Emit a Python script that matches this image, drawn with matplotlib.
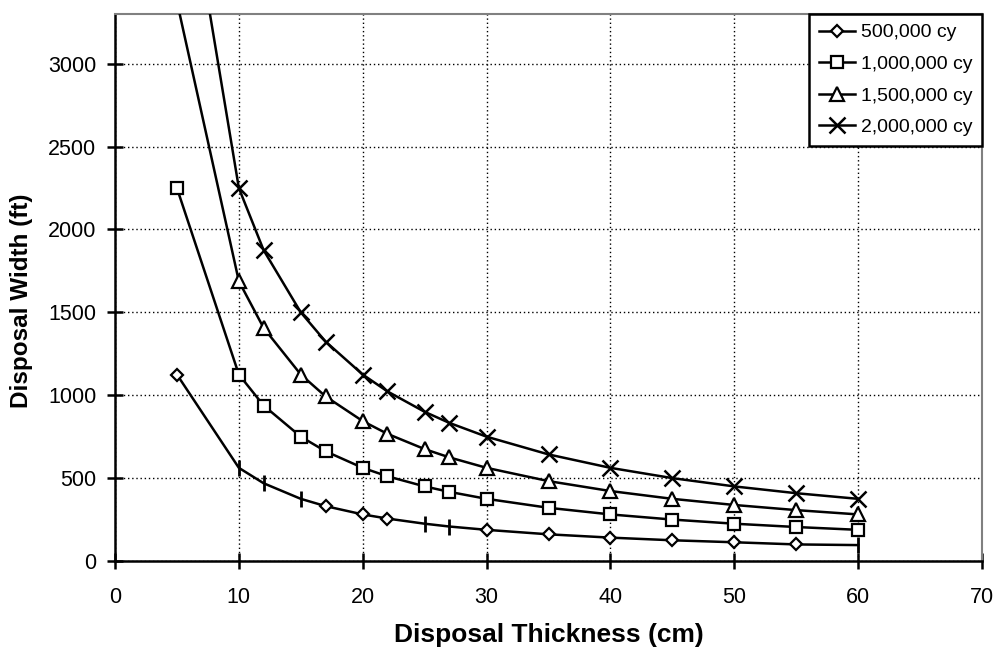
import matplotlib
matplotlib.use("Agg")
import matplotlib.pyplot as plt
import numpy as np
from matplotlib.lines import Line2D

thickness = [5, 10, 12, 15, 17, 20, 22, 25, 27, 30, 35, 40, 45, 50, 55, 60]
w500k = [1125, 562, 469, 375, 331, 281, 256, 225, 208, 188, 161, 141, 125, 113, 100, 96]
w1000k = [2250, 1125, 938, 750, 662, 562, 511, 450, 417, 375, 321, 281, 250, 225, 205, 188]
w1500k = [3375, 1688, 1406, 1125, 993, 844, 767, 675, 625, 562, 482, 422, 375, 338, 307, 281]
w2000k = [4500, 2250, 1875, 1500, 1324, 1125, 1023, 900, 833, 750, 643, 562, 500, 450, 409, 375]
labels = ["500,000 cy", "1,000,000 cy", "1,500,000 cy", "2,000,000 cy"]
xticks = [0, 10, 20, 30, 40, 50, 60, 70]
yticks = [0, 500, 1000, 1500, 2000, 2500, 3000]

# points of the first series drawn as a small vertical tick instead of a diamond
tick_points = (10, 12, 15, 25, 27, 60)

plt.rcParams['font.family'] = ['Liberation Sans', 'DejaVu Sans']

fig = plt.figure(figsize=(9.96, 6.52), dpi=100)
ax = fig.add_axes([115/996, 1 - 561/652, (982-115)/996, (561-14)/652])

lw = 1.8
x = np.array(thickness)
y500 = np.array(w500k)
ax.plot(x, y500, color='black', lw=lw, zorder=3, clip_on=True)
mask = np.isin(x, tick_points)
ax.plot(x[~mask], y500[~mask], ls='none', marker='D', ms=6.5, mfc='white',
        mec='black', mew=1.6, zorder=4)
ax.plot(x[mask], y500[mask], ls='none', marker='|', ms=12, mec='black',
        mew=2, zorder=4)

ax.plot(thickness, w1000k, color='black', lw=lw, marker='s', ms=9,
        mfc='white', mec='black', mew=1.6, zorder=3)
ax.plot(thickness, w1500k, color='black', lw=lw, marker='^', ms=10,
        mfc='white', mec='black', mew=1.6, zorder=3)
ax.plot(thickness, w2000k, color='black', lw=lw, marker='x', ms=11,
        mec='black', mew=1.8, zorder=3)

ax.set_xlim(0, 70)
ax.set_ylim(0, 3300)
ax.set_xticks(xticks)
ax.set_yticks(yticks)
ax.tick_params(axis='both', direction='inout', length=11, width=1.8,
               labelsize=15.5, colors='black')
ax.tick_params(axis='x', pad=13)
ax.tick_params(axis='y', pad=8)
ax.grid(True, color='black', linestyle=(0, (1, 2)), linewidth=1.0, zorder=1)
ax.set_axisbelow(True)

for s in ('left', 'bottom'):
    ax.spines[s].set_linewidth(1.8)
    ax.spines[s].set_color('black')
for s in ('top', 'right'):
    ax.spines[s].set_linewidth(1.5)
    ax.spines[s].set_color('#808080')

ax.set_xlabel('Disposal Thickness (cm)', fontsize=19, fontweight='bold', labelpad=11)
ax.set_ylabel('Disposal Width (ft)', fontsize=17.5, fontweight='bold')
ax.yaxis.set_label_coords(-0.095, 0.475)

handles = [
    Line2D([], [], color='black', lw=lw, marker='D', ms=6.5, mfc='white', mew=1.6),
    Line2D([], [], color='black', lw=lw, marker='s', ms=9, mfc='white', mew=1.6),
    Line2D([], [], color='black', lw=lw, marker='^', ms=10, mfc='white', mew=1.6),
    Line2D([], [], color='black', lw=lw, marker='x', ms=11, mew=1.8),
]
leg = ax.legend(handles, labels, loc='upper right', bbox_to_anchor=(1.0, 1.0),
                fontsize=14, frameon=True, fancybox=False, edgecolor='black',
                framealpha=1, borderpad=0.5, labelspacing=0.72, handlelength=1.85,
                handletextpad=0.3, borderaxespad=0)
leg.get_frame().set_linewidth(1.8)
leg.set_zorder(10)

fig.savefig('out.png', dpi=100)
